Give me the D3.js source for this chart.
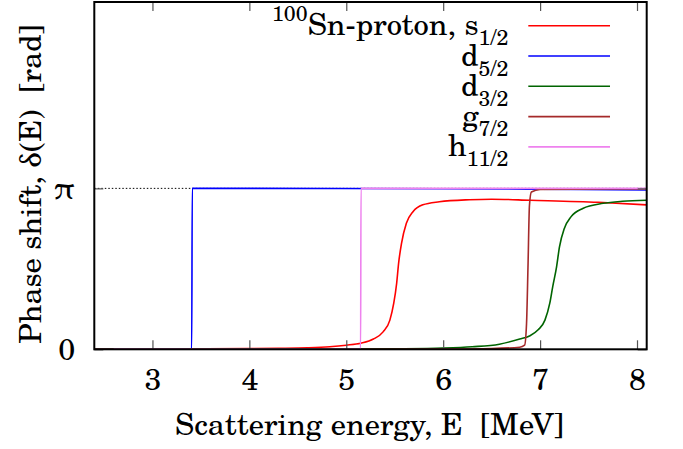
<!DOCTYPE html>
<html>
<head>
<meta charset="utf-8">
<script src="https://cdn.jsdelivr.net/npm/d3@7"></script>
<style>
  html, body { margin: 0; padding: 0; background: #fff; }
  svg { display: block; }
</style>
</head>
<body>
<svg id="chart" width="683" height="449"></svg>
<script>
// Phase shifts of 100Sn-proton scattering per partial wave (energy in MeV, phase in rad)
const energyS12 = [2.4, 3.0, 3.5, 4.0, 4.3, 4.6, 4.83, 5.0, 5.15, 5.28, 5.38, 5.45, 5.49, 5.52, 5.54, 5.57, 5.62, 5.69, 5.79, 5.96, 6.27, 6.5, 6.9, 7.6, 8.1];
const phaseS12  = [0.0, 0.004, 0.008, 0.014, 0.02, 0.03, 0.05, 0.08, 0.12, 0.2, 0.34, 0.57, 0.90, 1.29, 1.68, 2.07, 2.46, 2.69, 2.82, 2.88, 2.92, 2.93, 2.91, 2.87, 2.82];

const energyD52 = [2.4, 3.405, 3.411, 3.42, 6.0, 7.0, 8.1];
const phaseD52  = [0.0, 0.0, 3.1416, 3.1416, 3.135, 3.125, 3.11];

const energyD32 = [2.4, 4.0, 5.0, 5.5, 6.0, 6.3, 6.58, 6.79, 6.89, 6.98, 7.05, 7.10, 7.13, 7.17, 7.20, 7.25, 7.32, 7.44, 7.65, 7.85, 8.1];
const phaseD32  = [0.0, 0.001, 0.004, 0.01, 0.025, 0.05, 0.10, 0.2, 0.26, 0.38, 0.57, 0.90, 1.22, 1.61, 2.0, 2.36, 2.59, 2.75, 2.85, 2.89, 2.91];

const energyG72 = [2.4, 5.0, 6.0, 6.5, 6.79, 6.84, 6.86, 6.875, 6.89, 6.91, 7.0, 8.1];
const phaseG72  = [0.0, 0.0, 0.005, 0.015, 0.04, 0.08, 0.5, 1.6, 2.8, 3.07, 3.12, 3.13];

const energyH112 = [2.6, 5.148, 5.152, 8.1];
const phaseH112  = [0.0, 0.0, 3.1416, 3.1416];

const seriesNames  = ["s", "d", "d", "g", "h"];
const seriesSubs   = ["1/2", "5/2", "3/2", "7/2", "11/2"];
const seriesColors = ["#ff0000", "#0000ff", "#006400", "#a52a2a", "#ee82ee"];

const xTicks = [3, 4, 5, 6, 7, 8];
const yTickValues = [0, Math.PI];
const yTickLabels = ["0", "π"];

const xTitle = "Scattering energy, E  [MeV]";
const yTitle = "Phase shift, δ(E)  [rad]";

const series = [
  { e: energyS12, p: phaseS12 },
  { e: energyD52, p: phaseD52 },
  { e: energyD32, p: phaseD32 },
  { e: energyG72, p: phaseG72 },
  { e: energyH112, p: phaseH112 }
].map((s, i) => ({
  points: s.e.map((v, k) => [v, s.p[k]]),
  name: seriesNames[i], sub: seriesSubs[i], color: seriesColors[i]
}));

const FONT = "'TeX Gyre Schola', 'DejaVu Serif', serif";
const svg = d3.select("#chart");
const plotLeft = 94.3, plotRight = 646.7, plotTop = 2, plotBottom = 349.3;

// font size chosen so the x-axis title spans 389px
const probe = svg.append("text").attr("font-family", FONT).attr("font-size", 27)
  .style("white-space", "pre").text(xTitle);
const fs = 27 * 389 / probe.node().getComputedTextLength();
probe.remove();
const fsSmall = fs * 0.7;

const x = d3.scaleLinear().domain([2.4, 8.1]).range([plotLeft, plotRight]);
const y = d3.scaleLinear().domain([0, 6.78]).range([plotBottom, plotTop]);

// reference line at pi
svg.append("line")
  .attr("x1", plotLeft).attr("x2", plotRight)
  .attr("y1", y(Math.PI)).attr("y2", y(Math.PI))
  .attr("stroke", "#000").attr("stroke-width", 1)
  .attr("stroke-dasharray", "1.5,2");

// curves
const line = d3.line().x(d => x(d[0])).y(d => y(d[1])).curve(d3.curveMonotoneX);
const plot = svg.append("g");
series.forEach(s => {
  plot.append("path")
    .attr("d", line(s.points))
    .attr("fill", "none")
    .attr("stroke", s.color)
    .attr("stroke-width", 1.6)
    .attr("stroke-linejoin", "round");
});

// inward ticks on all four sides
const tickLen = 9;
const tickColor = "#555";
const xBottom = d3.axisBottom(x).tickValues(xTicks).tickSize(-tickLen).tickFormat(d3.format("d"));
const xTop = d3.axisTop(x).tickValues(xTicks).tickSize(-tickLen).tickFormat("");
const yLeft = d3.axisLeft(y).tickValues(yTickValues).tickSize(-tickLen).tickPadding(19).tickFormat((d, i) => yTickLabels[i]);
const yRight = d3.axisRight(y).tickValues(yTickValues).tickSize(-tickLen).tickFormat("");

function styleAxis(g) {
  g.select(".domain").remove();
  g.attr("font-family", FONT).attr("font-size", fs);
  g.selectAll(".tick line").attr("stroke", tickColor).attr("stroke-width", 1.2);
  g.selectAll(".tick text").attr("fill", "#000");
}
svg.append("g").attr("transform", `translate(0,${plotBottom})`).call(xBottom).call(styleAxis)
  .selectAll(".tick text").attr("y", 390 - plotBottom).attr("dy", null);
svg.append("g").attr("transform", `translate(0,${plotTop})`).call(xTop).call(styleAxis);
svg.append("g").attr("transform", `translate(${plotLeft},0)`).call(yLeft).call(styleAxis);
svg.append("g").attr("transform", `translate(${plotRight},0)`).call(yRight).call(styleAxis);

// frame
svg.append("rect")
  .attr("x", plotLeft).attr("y", plotTop)
  .attr("width", plotRight - plotLeft).attr("height", plotBottom - plotTop)
  .attr("fill", "none").attr("stroke", "#000").attr("stroke-width", 2);

// axis titles
svg.append("text")
  .attr("x", (plotLeft + plotRight) / 2 - 1).attr("y", 435)
  .attr("text-anchor", "middle")
  .attr("font-family", FONT).attr("font-size", fs)
  .style("white-space", "pre")
  .text(xTitle);

svg.append("text")
  .attr("transform", "translate(41,184) rotate(-90)")
  .attr("text-anchor", "middle")
  .attr("font-family", FONT).attr("font-size", fs)
  .style("white-space", "pre")
  .text(yTitle);

// legend
const legend = svg.append("g");
const rowY0 = 25.7, rowStep = 30.3, textRight = 508.3;
series.forEach((s, i) => {
  const ly = rowY0 + i * rowStep;
  legend.append("line")
    .attr("x1", 528.3).attr("x2", 610)
    .attr("y1", ly).attr("y2", ly)
    .attr("stroke", s.color).attr("stroke-width", 1.6);
  const t = legend.append("text")
    .attr("x", textRight).attr("y", ly + 9.5)
    .attr("text-anchor", "end")
    .attr("font-family", FONT).attr("font-size", fs);
  if (i === 0) {
    t.append("tspan").attr("dy", -14).attr("font-size", fsSmall).text("100");
    t.append("tspan").attr("dy", 14).text("Sn-proton, " + s.name);
  } else {
    t.append("tspan").text(s.name);
  }
  t.append("tspan").attr("dy", 10).attr("font-size", fsSmall).text(s.sub);
});
</script>
</body>
</html>
